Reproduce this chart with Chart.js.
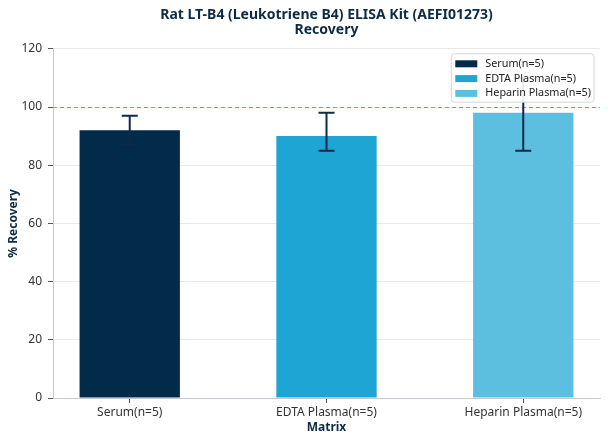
<!DOCTYPE html>
<html>
<head>
<meta charset="utf-8">
<script src="https://cdn.jsdelivr.net/npm/chart.js@4.4.1/dist/chart.umd.min.js"></script>
<style>
    html, body { margin: 0; padding: 0; background: #ffffff; }
    #wrap { width: 608px; height: 444px; }
</style>
</head>
<body>
<div id="wrap"><canvas id="recoveryChart" width="608" height="444"></canvas></div>
<script>
// 데이터
const matrices = ['Serum(n=5)', 'EDTA Plasma(n=5)', 'Heparin Plasma(n=5)'];
const recovery = [92, 90, 98];
const errLow = [87, 85, 85];
const errHigh = [97, 98, 110];
const barColors = ['#022b4a', '#1fa5d3', '#5cbfe0'];
const yTicks = [0, 20, 40, 60, 80, 100, 120];
const refLine = 100;

const navy = '#0d2b45';
const fontFamily = '"Noto Sans", "Open Sans", sans-serif';

// 오차 막대 + 기준선 + 범례
const extrasPlugin = {
    id: 'extras',
    beforeDatasetsDraw(chart) {
        const { ctx, chartArea, scales } = chart;
        const y = Math.round(scales.y.getPixelForValue(refLine)) + 0.5;
        ctx.save();
        ctx.strokeStyle = '#4fb0c8';
        ctx.lineWidth = 1;
        ctx.setLineDash([4, 3]);
        ctx.beginPath();
        ctx.moveTo(chartArea.left, y);
        ctx.lineTo(chartArea.right, y);
        ctx.stroke();
        ctx.restore();
    },
    afterDatasetsDraw(chart) {
        const { ctx, scales } = chart;
        const meta = chart.getDatasetMeta(0);
        ctx.save();
        ctx.strokeStyle = navy;
        ctx.lineWidth = 2;
        meta.data.forEach((bar, i) => {
            const yTop = scales.y.getPixelForValue(errHigh[i]);
            const yBot = scales.y.getPixelForValue(errLow[i]);
            ctx.beginPath();
            ctx.moveTo(bar.x, yTop);
            ctx.lineTo(bar.x, yBot);
            ctx.moveTo(bar.x - 8, yTop);
            ctx.lineTo(bar.x + 8, yTop);
            ctx.moveTo(bar.x - 8, yBot);
            ctx.lineTo(bar.x + 8, yBot);
            ctx.stroke();
        });
        ctx.restore();
    },
    afterDraw(chart) {
        const { ctx, chartArea } = chart;
        ctx.save();
        ctx.font = '10.8px ' + fontFamily;
        const textW = Math.max(...matrices.map(m => ctx.measureText(m).width));
        const padL = 4, swW = 22, swH = 7, gap = 8, padR = 3, rowH = 14.8;
        const boxW = padL + swW + gap + textW + padR;
        const boxH = rowH * matrices.length + 4;
        const right = chartArea.right - 6;
        const left = right - boxW;
        const top = chartArea.top + 5;

        ctx.fillStyle = 'rgba(255,255,255,0.9)';
        ctx.strokeStyle = '#d6d6d6';
        ctx.lineWidth = 1;
        ctx.beginPath();
        ctx.roundRect(left, top, boxW, boxH, 3);
        ctx.fill();
        ctx.stroke();

        ctx.textBaseline = 'middle';
        ctx.textAlign = 'left';
        matrices.forEach((m, i) => {
            const cy = top + 10 + i * rowH;
            ctx.fillStyle = barColors[i];
            ctx.fillRect(left + padL, cy - swH / 2, swW, swH);
            ctx.fillStyle = '#222222';
            ctx.fillText(m, left + padL + swW + gap, cy);
        });
        ctx.restore();
    }
};

const ctx = document.getElementById('recoveryChart').getContext('2d');
new Chart(ctx, {
    type: 'bar',
    data: {
        datasets: [{
            data: recovery.map((v, i) => ({ x: i, y: v })),
            backgroundColor: barColors,
            borderWidth: 0,
            barPercentage: 0.51,
            categoryPercentage: 1.0
        }]
    },
    options: {
        responsive: false,
        animation: false,
        layout: { padding: { left: 6, right: 8, top: 0, bottom: 9 } },
        plugins: {
            legend: { display: false },
            tooltip: { enabled: false },
            title: {
                display: true,
                fullSize: false,
                text: ['Rat LT-B4 (Leukotriene B4) ELISA Kit (AEFI01273)', 'Recovery'],
                color: navy,
                font: { family: fontFamily, size: 14, weight: 'bold', lineHeight: 1.1 },
                padding: { top: 7, bottom: 11 }
            }
        },
        scales: {
            x: {
                type: 'linear',
                offset: false,
                min: -0.39,
                max: 2.39,
                afterBuildTicks: (scale) => {
                    scale.ticks = matrices.map((m, i) => ({ value: i }));
                },
                afterFit: (scale) => { scale.height = 37; },
                ticks: {
                    callback: (v) => matrices[v],
                    color: '#333333',
                    font: { family: fontFamily, size: 12 },
                    padding: 2,
                    maxRotation: 0,
                    autoSkip: false
                },
                grid: {
                    offset: false,
                    drawOnChartArea: false,
                    drawTicks: true,
                    tickLength: 5,
                    tickColor: '#555555'
                },
                border: { color: '#c8ccd0', width: 1 },
                title: {
                    display: true,
                    text: 'Matrix',
                    color: navy,
                    font: { family: fontFamily, size: 12, weight: 'bold' },
                    padding: { top: 0, bottom: 0 }
                }
            },
            y: {
                min: 0,
                max: 120,
                afterBuildTicks: (scale) => {
                    scale.ticks = yTicks.map(v => ({ value: v }));
                },
                afterFit: (scale) => { scale.width = 47; },
                ticks: {
                    color: '#333333',
                    font: { family: fontFamily, size: 12 },
                    padding: 6
                },
                grid: {
                    color: '#e6eaec',
                    lineWidth: 1,
                    drawTicks: true,
                    tickLength: 5,
                    tickColor: '#555555'
                },
                border: { color: '#c8ccd0', width: 1 },
                title: {
                    display: true,
                    text: '% Recovery',
                    color: navy,
                    font: { family: fontFamily, size: 12, weight: 'bold' },
                    padding: { top: 0, bottom: 4 }
                }
            }
        }
    },
    plugins: [extrasPlugin]
});
</script>
</body>
</html>
